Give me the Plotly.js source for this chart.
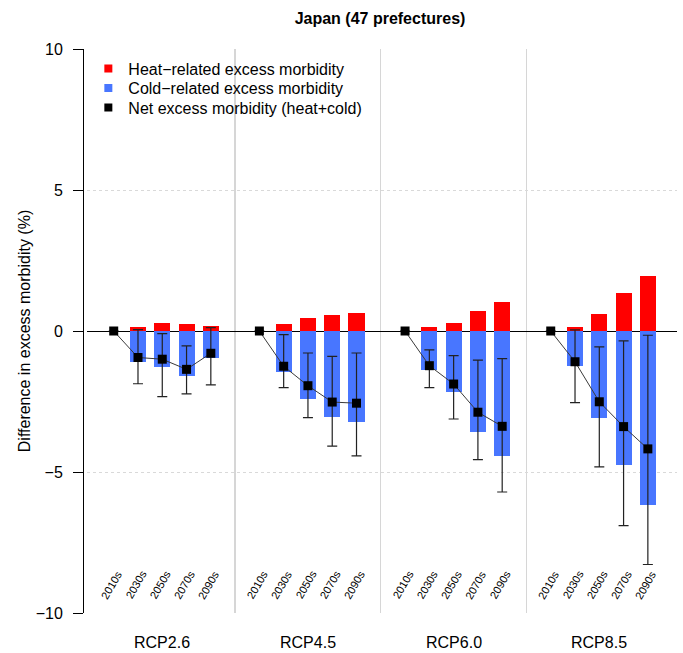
<!DOCTYPE html>
<html>
<head>
<meta charset="utf-8">
<script src="https://cdn.plot.ly/plotly-3.0.1.min.js"></script>
<style>html,body{margin:0;padding:0;background:#fff}#chart{width:683px;height:653px}</style>
</head>
<body>
<div id="chart"></div>
<script>
// ---- data ----
const scenarios = ["RCP2.6", "RCP4.5", "RCP6.0", "RCP8.5"];
const decades = ["2010s", "2030s", "2050s", "2070s", "2090s"];

const heat_RCP26 = [0, 0.14, 0.28, 0.26, 0.17];
const heat_RCP45 = [0, 0.24, 0.47, 0.56, 0.65];
const heat_RCP60 = [0, 0.13, 0.28, 0.70, 1.04];
const heat_RCP85 = [0, 0.14, 0.59, 1.36, 1.96];

const cold_RCP26 = [0, -1.09, -1.29, -1.61, -0.96];
const cold_RCP45 = [0, -1.46, -2.41, -3.06, -3.21];
const cold_RCP60 = [0, -1.37, -2.15, -3.57, -4.42];
const cold_RCP85 = [0, -1.25, -3.10, -4.75, -6.16];

const net_RCP26 = [0, -0.94, -1.00, -1.36, -0.79];
const net_RCP45 = [0, -1.25, -1.94, -2.52, -2.56];
const net_RCP60 = [0, -1.23, -1.88, -2.88, -3.38];
const net_RCP85 = [0, -1.09, -2.51, -3.39, -4.18];

const netLow_RCP26 = [0, -1.87, -2.33, -2.23, -1.91];
const netLow_RCP45 = [0, -2.01, -3.07, -4.08, -4.43];
const netLow_RCP60 = [0, -2.01, -3.12, -4.56, -5.71];
const netLow_RCP85 = [0, -2.54, -4.82, -6.90, -8.28];

const netHigh_RCP26 = [0, 0.05, -0.09, -0.53, 0.12];
const netHigh_RCP45 = [0, -0.13, -0.78, -0.90, -0.78];
const netHigh_RCP60 = [0, -0.67, -0.87, -1.03, -0.98];
const netHigh_RCP85 = [0, 0.04, -0.56, -0.35, -0.15];

const yTicks = [-10, -5, 0, 5, 10];
const legendNames = ["Heat\u2212related excess morbidity", "Cold\u2212related excess morbidity", "Net excess morbidity (heat+cold)"];

// ---- build ----
const heat = [heat_RCP26, heat_RCP45, heat_RCP60, heat_RCP85];
const cold = [cold_RCP26, cold_RCP45, cold_RCP60, cold_RCP85];
const net = [net_RCP26, net_RCP45, net_RCP60, net_RCP85];
const netLow = [netLow_RCP26, netLow_RCP45, netLow_RCP60, netLow_RCP85];
const netHigh = [netHigh_RCP26, netHigh_RCP45, netHigh_RCP60, netHigh_RCP85];

const GROUP = decades.length + 1; // slots per scenario panel
const pos = (s, d) => s * GROUP + d;

const FONT = "Liberation Sans, Arial, Helvetica, sans-serif";
const RED = "#FF0000", BLUE = "#4876FF";

const xs = [], hv = [], cv = [];
scenarios.forEach((sc, s) => decades.forEach((dc, d) => {
  xs.push(pos(s, d)); hv.push(heat[s][d]); cv.push(cold[s][d]);
}));

const traces = [
  {type: "bar", x: xs, y: hv, width: 0.66, marker: {color: RED, line: {width: 0}}, showlegend: false, hoverinfo: "skip"},
  {type: "bar", x: xs, y: cv, width: 0.66, marker: {color: BLUE, line: {width: 0}}, showlegend: false, hoverinfo: "skip"}
];

scenarios.forEach((sc, s) => {
  const x = decades.map((dc, d) => pos(s, d));
  traces.push({
    type: "scatter", mode: "lines+markers", x: x, y: net[s],
    line: {color: "#3a3a3a", width: 1},
    marker: {symbol: "square", size: 9, color: "#000"},
    error_y: {type: "data", symmetric: false,
      array: net[s].map((v, i) => netHigh[s][i] - v),
      arrayminus: net[s].map((v, i) => v - netLow[s][i]),
      color: "#222", thickness: 1.2, width: 5},
    showlegend: false, hoverinfo: "skip"
  });
});

// legend-only entries (square swatches as in the reference), one legend per row
const legendIds = ["legend", "legend2", "legend3"];
[RED, BLUE, "#000"].forEach((c, i) => traces.push({
  type: "scatter", mode: "markers", x: [null], y: [null], name: legendNames[i],
  legend: legendIds[i], showlegend: true,
  marker: {symbol: "square", size: 8, color: c}
}));

const annotations = [];
scenarios.forEach((sc, s) => {
  decades.forEach((dc, d) => annotations.push({
    x: pos(s, d) - 0.1, y: -9.0, xref: "x", yref: "y", text: dc, showarrow: false,
    textangle: -60, font: {family: FONT, size: 11, color: "#000"}
  }));
  annotations.push({
    x: pos(s, 2), y: -0.053, xref: "x", yref: "paper", text: sc, showarrow: false,
    yanchor: "middle", font: {family: FONT, size: 16, color: "#000"}
  });
});

const legendBase = {x: 0.009, xanchor: "left", yanchor: "top", bgcolor: "rgba(0,0,0,0)",
  font: {family: FONT, size: 16, color: "#000"}, itemwidth: 30};

const layout = {
  width: 683, height: 653,
  margin: {l: 83, r: 6, t: 49, b: 40},
  paper_bgcolor: "#fff", plot_bgcolor: "#fff",
  font: {family: FONT, size: 16, color: "#000"},
  title: {text: "<b>Japan (47 prefectures)</b>", font: {family: FONT, size: 16, color: "#000"},
          x: 0.5, xref: "paper", y: 1 - 18 / 653, yref: "container", yanchor: "middle"},
  barmode: "relative",
  bargap: 0,
  xaxis: {
    domain: [4 / 594, 1], range: [-1.1, 23.2],
    tickvals: [pos(1, -1), pos(2, -1), pos(3, -1)], showticklabels: false, ticks: "",
    showgrid: true, gridcolor: "#d6d6d6", gridwidth: 1.3,
    zeroline: false, showline: false, fixedrange: true
  },
  yaxis: {
    anchor: "free", position: 0,
    range: [-10, 10], tickvals: yTicks,
    ticks: "outside", ticklen: 10, tickwidth: 1, tickcolor: "#000",
    ticklabelstandoff: 7,
    showline: true, linecolor: "#000", linewidth: 1,
    showgrid: true, gridcolor: "#d9d9d9", griddash: "dot", gridwidth: 1,
    zeroline: true, zerolinecolor: "#000", zerolinewidth: 1,
    tickfont: {family: FONT, size: 16, color: "#000"},
    title: {text: "Difference in excess morbidity (%)", font: {family: FONT, size: 16, color: "#000"}, standoff: 0},
    automargin: false, fixedrange: true
  },
  legend: Object.assign({}, legendBase, {y: 0.9956}),
  legend2: Object.assign({}, legendBase, {y: 0.9610}),
  legend3: Object.assign({}, legendBase, {y: 0.9264}),
  annotations: annotations
};

Plotly.newPlot("chart", traces, layout, {displayModeBar: false, staticPlot: true});
</script>
</body>
</html>
